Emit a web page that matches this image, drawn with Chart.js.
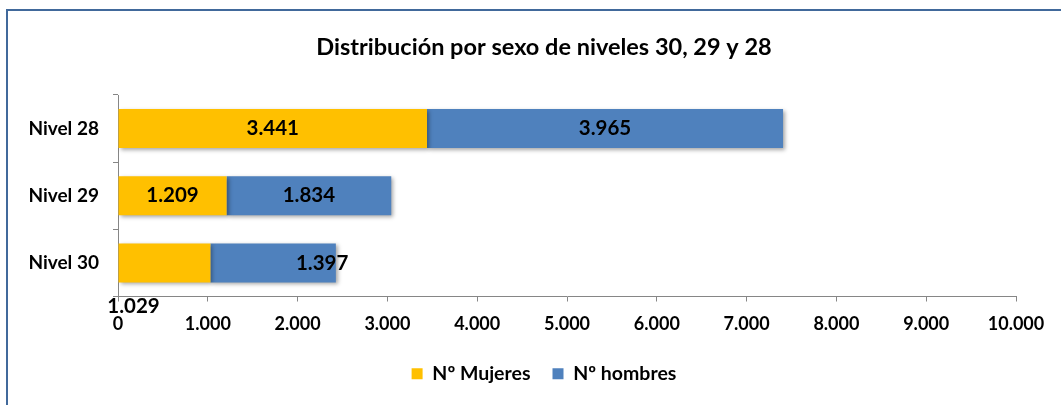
<!DOCTYPE html>
<html>
<head>
<meta charset="utf-8">
<script src="https://cdn.jsdelivr.net/npm/chart.js@4"></script>
<style>
  html, body { margin: 0; padding: 0; background: #fff; overflow: hidden; }
  #wrap { position: relative; width: 1061px; height: 405px; overflow: hidden; }
  #frame { position: absolute; left: 6px; top: 9px; width: 2000px; height: 2000px;
           border-left: 2px solid #41699b; border-top: 2px solid #41699b; box-sizing: border-box; }
  canvas { position: absolute; left: 0; top: 0; }
</style>
</head>
<body>
<div id="wrap">
  <div id="frame"></div>
  <canvas id="c" width="1088" height="405"></canvas>
</div>
<script>
const categories = ['Nivel 28', 'Nivel 29', 'Nivel 30'];
const mujeres = [3441, 1209, 1029];
const hombres = [3965, 1834, 1397];
const seriesNames = ['Nº Mujeres', 'Nº hombres'];
const xTickLabels = ['0', '1.000', '2.000', '3.000', '4.000', '5.000', '6.000', '7.000', '8.000', '9.000', '10.000'];
const titleText = 'Distribución por sexo de niveles 30, 29 y 28';

const FONT = 'Lato, "Open Sans", sans-serif';
const fmt = v => String(v).replace(/\B(?=(\d{3})+(?!\d))/g, '.');

const barShadow = {
  id: 'barShadow',
  beforeDatasetDraw(chart) {
    const ctx = chart.ctx;
    ctx.save();
    ctx.shadowColor = 'rgba(0,0,0,0.35)';
    ctx.shadowBlur = 4;
    ctx.shadowOffsetX = 2;
    ctx.shadowOffsetY = 2;
  },
  afterDatasetDraw(chart) { chart.ctx.restore(); }
};

const valueLabels = {
  id: 'valueLabels',
  afterDatasetsDraw(chart, args, opts) {
    const ctx = chart.ctx;
    ctx.save();
    ctx.font = opts.font;
    ctx.fillStyle = opts.color;
    ctx.textAlign = 'center';
    ctx.textBaseline = 'middle';
    chart.data.datasets.forEach((ds, di) => {
      const meta = chart.getDatasetMeta(di);
      meta.data.forEach((el, i) => {
        const p = el.getProps(['x', 'y', 'base'], true);
        const off = (opts.offsets[di + '-' + i]) || [0, 0];
        ctx.fillText(fmt(ds.data[i]), (p.x + p.base) / 2 + off[0], p.y + off[1]);
      });
    });
    ctx.restore();
  }
};

new Chart(document.getElementById('c'), {
  type: 'bar',
  data: {
    labels: categories,
    datasets: [
      { label: seriesNames[0], data: mujeres, backgroundColor: '#FFC000', borderWidth: 0 },
      { label: seriesNames[1], data: hombres, backgroundColor: '#4F81BD', borderWidth: 0 }
    ]
  },
  options: {
    indexAxis: 'y',
    responsive: false,
    animation: false,
    events: [],
    categoryPercentage: 1,
    barPercentage: 0.58,
    layout: { padding: { left: 0, right: 0, top: 0, bottom: 11.5 } },
    scales: {
      x: {
        stacked: true,
        min: 0, max: 10000,
        ticks: {
          stepSize: 1000,
          color: '#000',
          font: { family: FONT, size: 18, weight: 'bold' },
          padding: 11.5,
          maxRotation: 0,
          callback: (v, i) => xTickLabels[i]
        },
        grid: { drawOnChartArea: false, drawTicks: true, tickLength: 5, color: '#868686' },
        border: { display: true, color: '#868686' },
        afterFit(s) { s.height = 45.5; s.paddingRight = 72; }
      },
      y: {
        stacked: true,
        ticks: {
          color: '#000',
          font: { family: FONT, size: 19, weight: 'bold' },
          padding: 14
        },
        grid: { drawOnChartArea: false, drawTicks: true, tickLength: 5, color: '#868686', offset: true },
        border: { display: true, color: '#868686' },
        afterFit(s) { s.width = 118; }
      }
    },
    plugins: {
      title: {
        display: true,
        text: titleText,
        color: '#000',
        font: { family: FONT, size: 23.5, weight: 'bold', lineHeight: 1.2 },
        padding: { top: 33, bottom: 33.8 }
      },
      legend: {
        display: true,
        position: 'bottom',
        labels: {
          color: '#000',
          font: { family: FONT, size: 19.5, weight: 'bold' },
          boxWidth: 11, boxHeight: 11,
          padding: 22
        }
      },
      tooltip: { enabled: false },
      valueLabels: {
        font: 'bold 20.5px ' + FONT,
        color: '#000',
        offsets: { '0-2': [-31, 43.5], '1-2': [49, 0] }
      }
    }
  },
  plugins: [barShadow, valueLabels]
});
</script>
</body>
</html>
